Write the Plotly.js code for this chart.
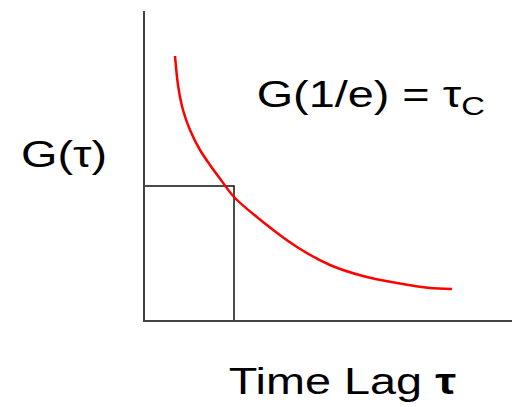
<!DOCTYPE html>
<html>
<head>
<meta charset="utf-8">
<script src="https://cdn.plot.ly/plotly-3.0.1.min.js"></script>
<style>
  html, body { margin: 0; padding: 0; background: #fff; }
  #chart { width: 512px; height: 407px; }
</style>
</head>
<body>
<div id="chart"></div>
<script>
// Autocorrelation decay G(tau) against time lag (arbitrary units)
const lagValues = [30, 33, 38, 45, 55, 65, 76, 89, 118, 152, 185, 218, 252, 285, 307];
const corrValues = [264, 235, 210, 190, 170, 155, 140, 123, 98, 73, 55, 44, 37, 32, 31];

// Correlation time marker: G falls to 1/e of its start at tau_c
const tauC = 89;
const gAtTauC = 134;

const xRange = [0, 367];
const yRange = [0, 309];

const curve = {
  x: lagValues,
  y: corrValues,
  mode: 'lines',
  line: { color: '#ff0000', width: 2.5, shape: 'spline', smoothing: 0.8 },
  hoverinfo: 'skip',
  cliponaxis: false
};

const marker = {
  x: [0, tauC, tauC],
  y: [gAtTauC, gAtTauC, 0],
  mode: 'lines',
  line: { color: '#111', width: 1.5 },
  hoverinfo: 'skip',
  cliponaxis: false
};

const font = { family: 'Liberation Sans, Arial, sans-serif', size: 36, color: '#000' };
// Labels are set in a wide face: stretch glyphs horizontally
const textStretch = 1.3;

const layout = {
  width: 512,
  height: 407,
  margin: { l: 145, r: 0, t: 11, b: 87 },
  paper_bgcolor: '#fff',
  plot_bgcolor: '#fff',
  showlegend: false,
  xaxis: {
    range: xRange,
    showgrid: false, zeroline: false, showticklabels: false, ticks: '',
    showline: true, linecolor: '#444', linewidth: 2
  },
  yaxis: {
    range: yRange,
    showgrid: false, zeroline: false, showticklabels: false, ticks: '',
    showline: true, linecolor: '#444', linewidth: 2
  },
  annotations: [
    {
      text: 'G(1/e) = τ<sub>C</sub>',
      xref: 'paper', yref: 'paper',
      x: 0.614, y: 0.722, xanchor: 'center', yanchor: 'middle',
      showarrow: false, font: font
    },
    {
      text: 'G(τ)',
      xref: 'paper', yref: 'paper',
      x: -0.2207, y: 0.535, xanchor: 'center', yanchor: 'middle',
      showarrow: false, font: font
    },
    {
      text: 'Time Lag <b>τ</b>',
      xref: 'paper', yref: 'paper',
      x: 0.538, y: -0.2, xanchor: 'center', yanchor: 'middle',
      showarrow: false, font: font
    }
  ]
};

const gd = document.getElementById('chart');
Plotly.newPlot(gd, [marker, curve], layout, { displayModeBar: false, staticPlot: true })
  .then(() => {
    gd.querySelectorAll('.annotation-text').forEach(t => {
      const bb = t.getBBox();
      const cx = bb.x + bb.width / 2;
      t.setAttribute('transform',
        'translate(' + cx + ',0) scale(' + textStretch + ',1) translate(' + (-cx) + ',0)');
    });
  });
</script>
</body>
</html>
